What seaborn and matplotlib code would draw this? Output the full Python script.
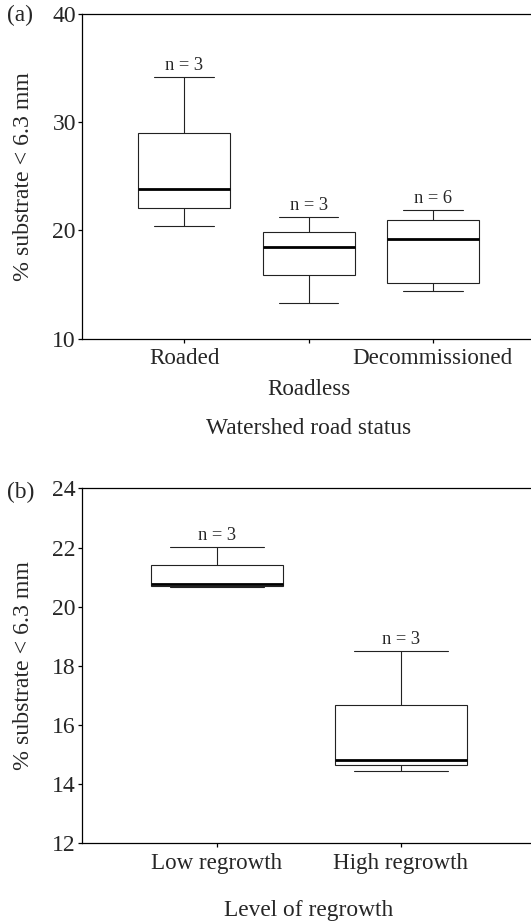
import numpy as np
import pandas as pd
import matplotlib
matplotlib.use('Agg')
import matplotlib.pyplot as plt
import matplotlib.transforms as mtransforms
import seaborn as sns

# painel (a): % substrato < 6.3 mm por status de estrada
road_status = ['Roaded', 'Roadless', 'Decommissioned']
roaded = [20.4, 23.8, 34.2]
roadless = [13.3, 18.5, 21.2]
decommissioned = [14.4, 14.4, 17.4, 21.0, 21.0, 21.9]
road_ticklabels = ['Roaded', '\nRoadless', 'Decommissioned']

# painel (b): por nivel de regeneracao
regrowth = ['Low regrowth', 'High regrowth']
low_regrowth = [20.66, 20.77, 22.02]
high_regrowth = [14.46, 14.82, 18.51]


def montar_df(categorias, grupos):
    return pd.DataFrame({
        'grupo': np.repeat(categorias, [len(g) for g in grupos]),
        'valor': np.concatenate(grupos),
    })


sns.set_style('ticks')
plt.rcParams['font.family'] = ['Liberation Serif', 'DejaVu Serif']
plt.rcParams['axes.linewidth'] = 0.9
plt.rcParams['axes.edgecolor'] = 'black'

fig = plt.figure(figsize=(5.31, 9.24), dpi=100)
ax1 = fig.add_axes([0.155, 0.6334, 0.845, 0.3517])
ax2 = fig.add_axes([0.155, 0.0872, 0.845, 0.3843])


def painel(ax, categorias, grupos, ticklabels, largura, cap, ylim, yticks, xlim,
           xlabel, xlabel_y):
    df = montar_df(categorias, grupos)
    sns.boxplot(data=df, x='grupo', y='valor', order=categorias, ax=ax,
                color='white', linecolor='#222222', linewidth=0.8,
                width=largura, capwidths=cap, showfliers=False,
                medianprops=dict(color='black', linewidth=2.0))

    # n acima de cada caixa
    for i, g in enumerate(grupos):
        ax.annotate(f'n = {len(g)}', xy=(i, max(g)), xytext=(0, 5),
                    textcoords='offset points', ha='center', va='baseline',
                    fontsize=13.3)

    ax.set_ylim(*ylim)
    ax.set_yticks(yticks)
    ax.set_xlim(*xlim)
    ax.set_xticks(range(len(categorias)))
    ax.set_xticklabels(ticklabels, linespacing=1.6)
    ax.set_xlabel('')
    ax.set_ylabel('')
    ax.spines['right'].set_visible(False)
    ax.tick_params(axis='both', direction='out', length=2.6, width=0.9,
                   color='black')
    ax.tick_params(axis='x', labelsize=16.6, pad=4.2)
    ax.tick_params(axis='y', labelsize=17, pad=2)

    trans = mtransforms.blended_transform_factory(ax.transData, ax.transAxes)
    ax.text((len(categorias) - 1) / 2, xlabel_y, xlabel, transform=trans,
            ha='center', va='center', fontsize=16.8)
    ax.text(-0.130, 0.5, '% substrate < 6.3 mm', transform=ax.transAxes,
            rotation=90, ha='center', va='center', fontsize=17.2)


painel(ax1, road_status, [roaded, roadless, decommissioned], road_ticklabels,
       0.74, 0.48, (10, 40), [10, 20, 30, 40], (-0.821, 2.79),
       'Watershed road status', -0.2757)
painel(ax2, regrowth, [low_regrowth, high_regrowth], regrowth,
       0.715, 0.51, (12, 24), [12, 14, 16, 18, 20, 22, 24], (-0.732, 1.707),
       'Level of regrowth', -0.1876)

fig.text(7 / 531, 1 - 15 / 924, '(a)', ha='left', va='center', fontsize=16.8)
fig.text(7.3 / 531, 1 - 492.7 / 924, '(b)', ha='left', va='center', fontsize=16.8)

fig.savefig('out.png', dpi=100)
